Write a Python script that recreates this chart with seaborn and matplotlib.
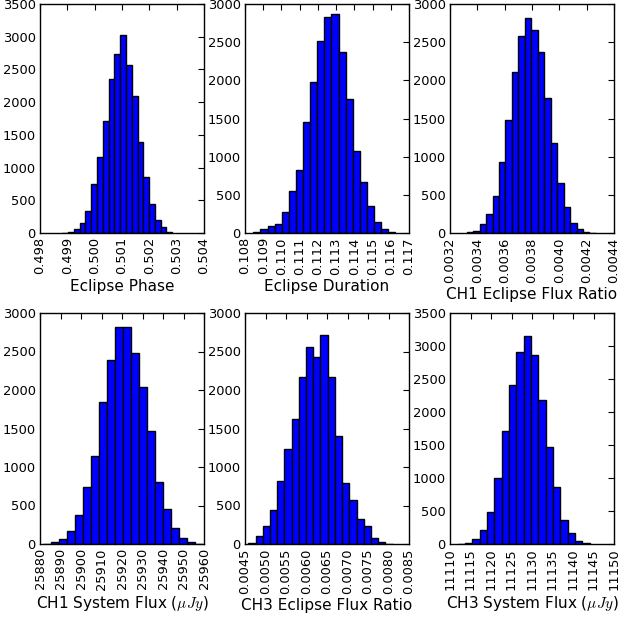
import numpy as np
import pandas as pd
import matplotlib
matplotlib.use("Agg")
import matplotlib.pyplot as plt
from matplotlib.ticker import FormatStrFormatter, MultipleLocator
import seaborn as sns

# Posterior histograms of the fitted eclipse parameters (counts per bin)

# Eclipse phase
phase_start, phase_width = 0.498812, 0.000212
phase_counts = [2, 8, 60, 160, 340, 750, 1160, 1710, 2350, 2740,
                3020, 2570, 2090, 1390, 860, 450, 195, 88, 18]

# Eclipse duration
dur_start, dur_width = 0.108456, 0.00039
dur_counts = [12, 50, 96, 115, 270, 545, 830, 1450, 1975, 2515,
              2825, 2875, 2377, 1762, 1068, 662, 355, 145, 48, 10]

# CH1 eclipse flux ratio
ch1r_start, ch1r_width = 0.003322, 0.0000473
ch1r_counts = [10, 25, 118, 249, 488, 929, 1483, 2113, 2585, 2812,
               2660, 2366, 1764, 1178, 653, 340, 134, 53, 15, 5]

# CH1 system flux (uJy)
ch1f_start, ch1f_width = 25881.6, 3.9
ch1f_counts = [5, 22, 67, 163, 378, 736, 1148, 1839, 2391, 2813,
               2822, 2487, 2039, 1466, 804, 456, 204, 74, 30, 5]

# CH3 eclipse flux ratio
ch3r_start, ch3r_width = 0.004581, 0.000176
ch3r_counts = [10, 100, 235, 439, 822, 1234, 1618, 2174, 2553, 2430,
               2717, 2170, 1409, 791, 574, 322, 236, 76, 24, 5]

# CH3 system flux (uJy)
ch3f_start, ch3f_width = 11111.87, 1.789
ch3f_counts = [4, 18, 70, 206, 482, 1000, 1708, 2410, 2912, 3146,
               2862, 2182, 1467, 857, 366, 173, 51, 15]

panels = [
    ("Eclipse Phase", phase_start, phase_width, phase_counts,
     (0.498, 0.504), 0.001, "%.3f", 3500),
    ("Eclipse Duration", dur_start, dur_width, dur_counts,
     (0.108, 0.117), 0.001, "%.3f", 3000),
    ("CH1 Eclipse Flux Ratio", ch1r_start, ch1r_width, ch1r_counts,
     (0.0032, 0.0044), 0.0002, "%.4f", 3000),
    (r"CH1 System Flux ($\mu Jy$)", ch1f_start, ch1f_width, ch1f_counts,
     (25880, 25960), 10, "%d", 3000),
    ("CH3 Eclipse Flux Ratio", ch3r_start, ch3r_width, ch3r_counts,
     (0.0045, 0.0085), 0.0005, "%.4f", 3000),
    (r"CH3 System Flux ($\mu Jy$)", ch3f_start, ch3f_width, ch3f_counts,
     (11110, 11150), 5, "%d", 3500),
]

sns.set_style("white")
plt.rcParams["font.family"] = ["DejaVu Sans"]
plt.rcParams["mathtext.fontset"] = "cm"
for key in ("text.color", "axes.labelcolor", "xtick.color", "ytick.color"):
    plt.rcParams[key] = "black"

fig = plt.figure(figsize=(6.21, 6.21), dpi=100)

lefts = [40, 245, 450]
tops = [4, 313]
bottoms = [233, 544]
W = 621.0

for i, (label, start, width, counts, xlim, xstep, fmt, ymax) in enumerate(panels):
    r, c = divmod(i, 3)
    x0 = lefts[c] / W
    y0 = 1 - bottoms[r] / W
    h = (bottoms[r] - tops[r]) / W
    ax = fig.add_axes([x0, y0, 164 / W, h])

    n = len(counts)
    lo = start
    hi = start + width * n
    centers = lo + width * (np.arange(n) + 0.5)
    df = pd.DataFrame({"value": centers, "count": counts})
    sns.histplot(data=df, x="value", weights="count", bins=n,
                 binrange=(lo, hi),
                 color="#0000ff", edgecolor="black", linewidth=1.0,
                 alpha=1.0, ax=ax)

    ax.set_xlim(*xlim)
    ax.set_ylim(0, ymax)
    ax.xaxis.set_major_locator(MultipleLocator(xstep))
    ax.yaxis.set_major_locator(MultipleLocator(500))
    ax.xaxis.set_major_formatter(FormatStrFormatter(fmt))
    ax.yaxis.set_major_formatter(FormatStrFormatter("%d"))
    ax.set_ylabel("")
    ax.set_xlabel(label, fontsize=11, labelpad=3)
    ax.tick_params(axis="both", which="major", direction="in", length=4,
                   width=0.8, top=True, right=True, labelsize=9.4, pad=3,
                   color="black", labelcolor="black")
    ax.tick_params(axis="x", labelrotation=90)
    for s in ax.spines.values():
        s.set_color("black")
        s.set_linewidth(1.0)

fig.savefig("out.png", dpi=100)
